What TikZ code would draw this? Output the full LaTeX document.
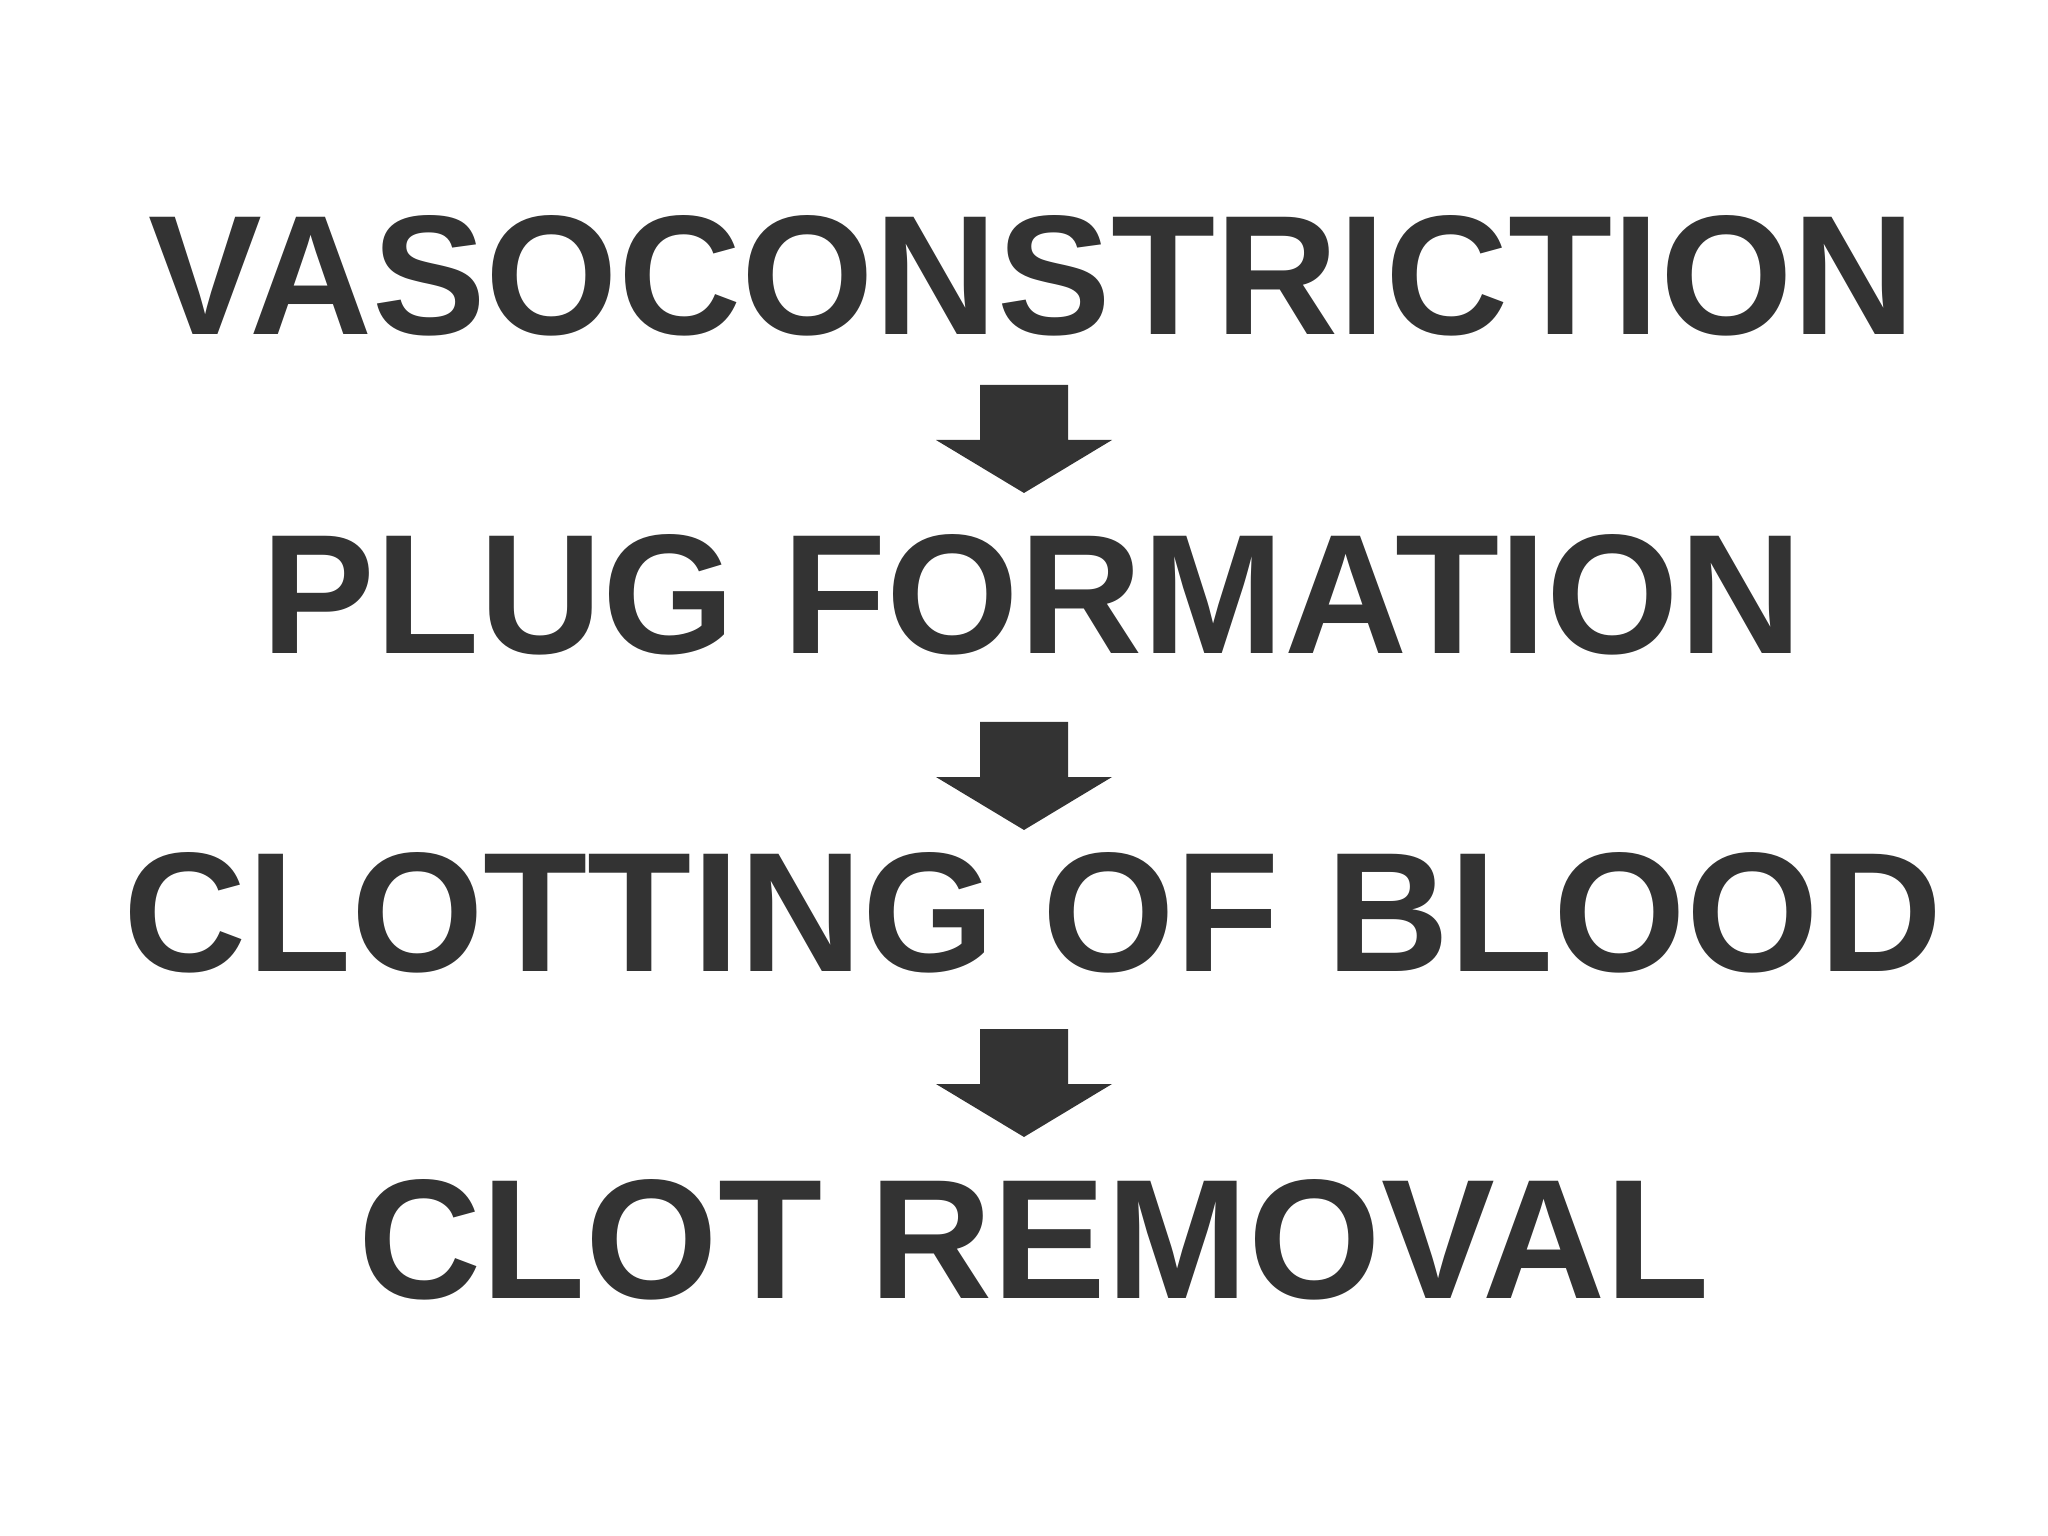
\documentclass[tikz,border=0pt]{standalone}
\usepackage{fontspec}
\setmainfont{Liberation Sans}
\usepackage{xcolor}
\definecolor{inkgray}{HTML}{333333}
\tikzset{
  stage/.style   = { anchor=base, inner sep=0pt, text=inkgray,
                     font=\fontsize{48.5}{58}\selectfont\bfseries },
  flow/.style    = { fill=inkgray, draw=none },
  downarrow/.pic = { \fill[flow] (-0.44,0) -- (0.44,0) -- (0.44,-0.55) -- (0.88,-0.55)
                       -- (0,-1.08) -- (-0.88,-0.55) -- (-0.44,-0.55) -- cycle; }
}
\begin{document}
\begin{tikzpicture}
\useasboundingbox (0,0) rectangle (20.48,-15.36);
\node[stage] (vaso)  at (10.32,-3.35) {VASOCONSTRICTION};
\node[stage] (plug)  at (10.32,-6.53) {PLUG FORMATION};
\node[stage] (clott) at (10.33,-9.71) {CLOTTING OF BLOOD};
\node[stage] (remov) at (10.34,-12.98) {CLOT REMOVAL};
% arrows between the stages
\coordinate (a1) at (10.24,-3.85);
\coordinate (a2) at (10.24,-7.22);
\coordinate (a3) at (10.24,-10.29);
\pic at (a1) {downarrow};
\pic at (a2) {downarrow};
\pic at (a3) {downarrow};
\end{tikzpicture}
\end{document}
